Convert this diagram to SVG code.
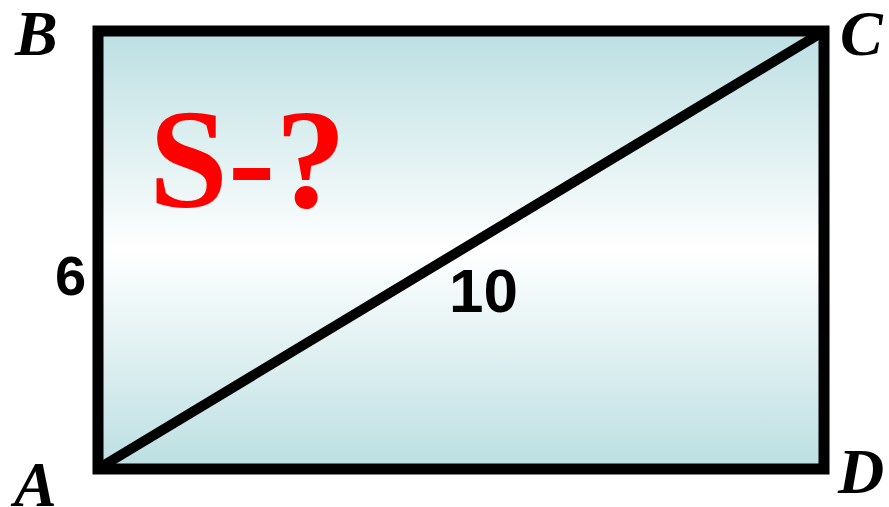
<svg xmlns="http://www.w3.org/2000/svg" width="889" height="507" viewBox="0 0 889 507">
  <style>
    .pt { font-family: "Liberation Serif", "Times New Roman", serif; font-weight: bold; font-style: italic; font-size: 64px; fill: #000; }
    .num { font-family: "Liberation Sans", Arial, sans-serif; font-weight: bold; fill: #000; }
    .edge { stroke: #000; stroke-width: 11; }
    .q { font-family: "Liberation Serif", "Times New Roman", serif; font-weight: bold; font-size: 142px; fill: #ff0000; }
  </style>
  <defs>
    <linearGradient id="bg" x1="0" y1="0" x2="0" y2="1">
      <stop offset="0" stop-color="#bcdfe2"/>
      <stop offset="0.5" stop-color="#ffffff"/>
      <stop offset="1" stop-color="#bcdfe2"/>
    </linearGradient>
  </defs>
  <rect width="889" height="507" fill="#ffffff"/>
  <g id="rectangle">
    <rect x="98" y="31" width="726" height="438" fill="url(#bg)" class="edge"/>
  </g>
  <g id="connectors">
    <line x1="101" y1="467" x2="821" y2="33" class="edge" style="stroke-width:10"/>
  </g>
  <g id="labels">
    <text x="15" y="55" class="pt">B</text>
    <text x="840" y="55" class="pt">C</text>
    <text x="14" y="506" class="pt">A</text>
    <text x="838" y="493" class="pt">D</text>
    <text x="55" y="295" class="num" font-size="56">6</text>
    <text x="449" y="312" class="num" font-size="62">10</text>
    <text x="149" y="207" class="q">S-?</text>
  </g>
</svg>
